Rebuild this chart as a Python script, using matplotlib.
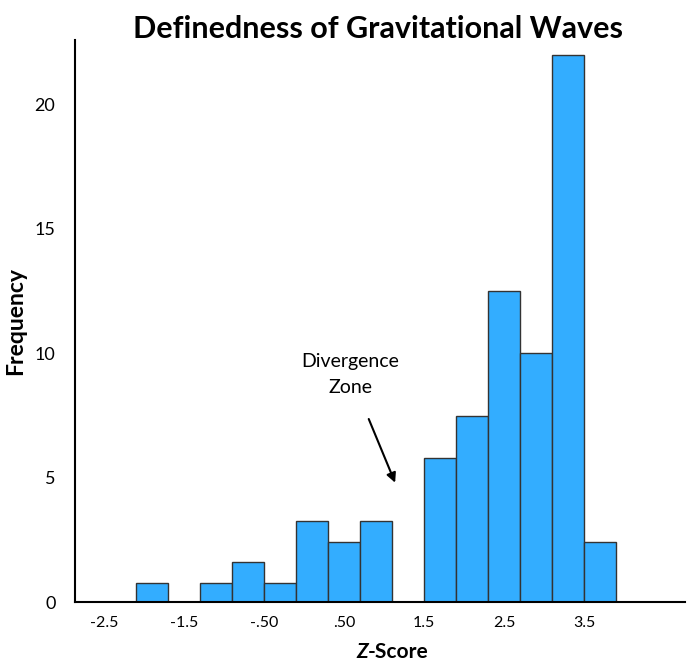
import matplotlib.pyplot as plt

# histogram bins (left edges, z units) and counts
bin_starts = [-2.1, -1.7, -1.3, -0.9, -0.5, -0.1, 0.3, 0.7, 1.1, 1.5, 1.9, 2.3, 2.7, 3.1, 3.5]
counts = [0.75, 0, 0.75, 1.6, 0.75, 3.25, 2.4, 3.25, 0, 5.8, 7.5, 12.5, 10, 22, 2.4]
bin_width = 0.4

xtick_pos = [-2.5, -1.5, -0.5, 0.5, 1.5, 2.5, 3.5]
xtick_labels = ['-2.5', '-1.5', '-.50', '.50', '1.5', '2.5', '3.5']
ytick_pos = [0, 5, 10, 15, 20]

plt.rcParams['font.family'] = ['Lato', 'DejaVu Sans']

if __name__ == '__main__':
    fig = plt.figure(figsize=(6.87, 6.66), dpi=100)
    ax = fig.add_axes([0.109, 0.096, 0.888, 0.844])

    ax.bar(bin_starts, counts, width=bin_width, align='edge',
           color='#33adff', edgecolor='#333333', linewidth=1.0)

    ax.set_xlim(-2.86, 4.76)
    ax.set_ylim(0, 22.6)
    ax.set_xticks(xtick_pos)
    ax.set_xticklabels(xtick_labels)
    ax.set_yticks(ytick_pos)
    ax.tick_params(axis='x', length=0, labelsize=11.5, pad=10)
    ax.tick_params(axis='y', length=0, labelsize=13, pad=14)

    for s in ['top', 'right']:
        ax.spines[s].set_visible(False)
    for s in ['left', 'bottom']:
        ax.spines[s].set_linewidth(1.5)
        ax.spines[s].set_color('black')

    ax.set_ylabel('Frequency', fontsize=16.5, fontweight='bold', labelpad=6)
    fig.suptitle('Definedness of Gravitational Waves', fontsize=22,
                 fontweight='bold', x=0.55, y=0.978)

    # x label with italic Z
    fig.text(0.536, 0.012, 'Z', fontsize=15, fontweight='bold',
             fontstyle='italic', ha='right')
    fig.text(0.536, 0.012, '-Score', fontsize=15, fontweight='bold', ha='left')

    ax.annotate('Divergence\nZone', xy=(1.14, 4.8), xytext=(0.58, 9.15),
                ha='center', va='center', fontsize=14, linespacing=1.6,
                arrowprops=dict(arrowstyle='-|>', color='black', lw=1.5,
                                shrinkA=16, shrinkB=0))

    plt.savefig('out.png', dpi=100)
